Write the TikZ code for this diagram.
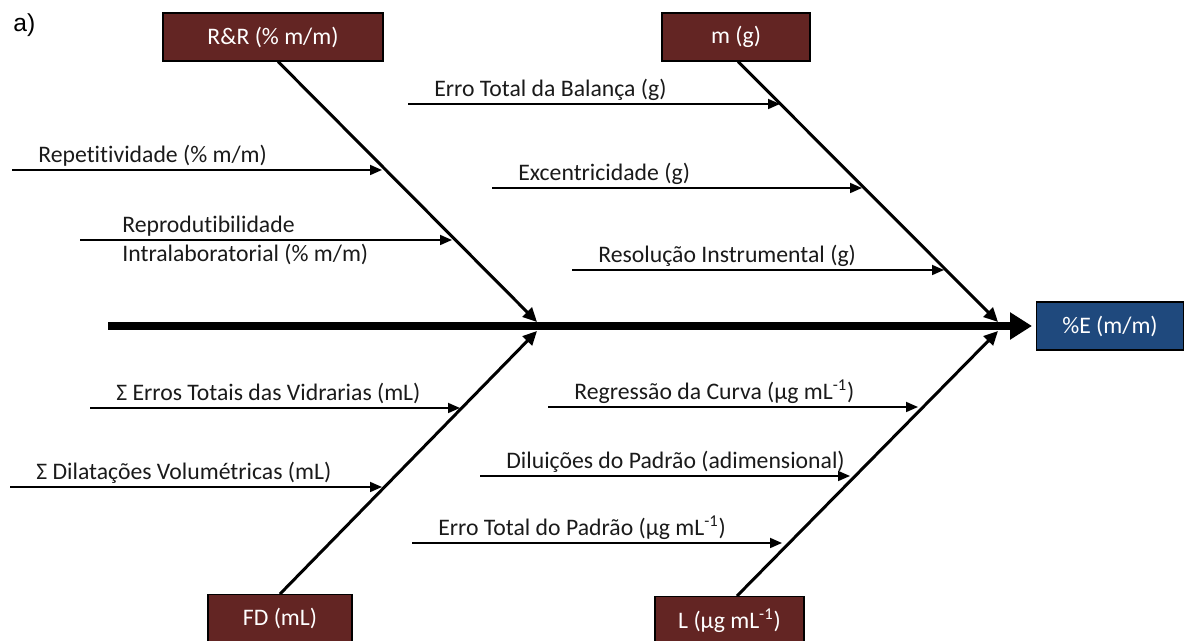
\documentclass[tikz,border=0pt]{standalone}
\usepackage{fontspec}
\setmainfont{Carlito}[Ligatures=NoCommon]
\newfontfamily\tagfont{Liberation Sans}
\usepackage{tikz}
\usetikzlibrary{arrows.meta,positioning,calc}
\definecolor{causefill}{HTML}{632523}
\definecolor{effectfill}{HTML}{1F497D}
\definecolor{lbltxt}{HTML}{1A1A1A}
\tikzset{
  cause/.style   = {draw=black,line width=0.6pt,fill=causefill,text=white,
                    minimum height=9.6mm,inner sep=0pt,
                    font=\fontsize{13.5}{16}\selectfont},
  effect/.style  = {cause,fill=effectfill},
  spine/.style   = {line width=4.5pt,-{Triangle[length=4.4mm,width=5.2mm]}},
  bone/.style    = {line width=1.7pt,-{Triangle[length=2.8mm,width=2.6mm]}},
  sub/.style     = {line width=1pt,-{Triangle[length=2.4mm,width=2mm]}},
  sublbl/.style  = {anchor=base west,inner sep=0pt,text=lbltxt,
                    font=\fontsize{13.5}{16}\selectfont},
}

\begin{document}
\begin{tikzpicture}[x=0.02cm,y=-0.02cm]
  \useasboundingbox (0,0) rectangle (1184,641);
  \clip (0,0) rectangle (1184,641);

  \node[anchor=base west,inner sep=0pt,font=\tagfont\fontsize{14}{16}\selectfont]
      (tag) at (13,32) {a)};

  % Cause boxes and effect
  \node[cause,minimum width=4.4cm]  (rr) at (273,37) {R\&R (\% m/m)};
  \node[cause,minimum width=2.96cm] (mg) at (736,37) {m (g)};
  \node[cause,minimum width=2.88cm,anchor=north] (fd) at (280,594) {FD (mL)};
  \node[cause,minimum width=2.98cm,anchor=north] (lb) at (729.5,596)
      {L (µg mL\textsuperscript{-1})};
  \node[effect,minimum width=2.94cm] (eff) at (1110,326) {\%E (m/m)};

  % Spine
  \coordinate (tail) at (108,326);
  \draw[spine,shorten >=0.8mm] (tail) -- (eff.west);

  % Main bones
  \coordinate (j1) at (537,322);
  \coordinate (j2) at (998,322);
  \coordinate (j3) at (537,331);
  \coordinate (j4) at (998,331);
  \draw[bone] ([xshift=1mm]rr.south) -- (j1);
  \draw[bone] ([xshift=0.4mm]mg.south) -- (j2);
  \draw[bone] (fd.north) -- (j3);
  \draw[bone] ([xshift=1.5mm]lb.north) -- (j4);

  % Sub-causes: name / start x / end x / y / label
  \foreach \n/\xa/\xb/\y/\txt in {
      1/12/382/170/{Repetitividade (\% m/m)},
      3/408/780/104/{Erro Total da Balança (g)},
      4/492/862/188/{Excentricidade (g)},
      5/572/944/270/{Resolução Instrumental (g)},
      6/90/460/408/{Σ Erros Totais das Vidrarias (mL)},
      7/10/382/487/{Σ Dilatações Volumétricas (mL)},
      8/548/918/407/{Regressão da Curva (µg mL\textsuperscript{-1})},
      9/480/850/476/{Diluições do Padrão (adimensional)},
      10/412/782/543/{Erro Total do Padrão (µg mL\textsuperscript{-1})}}
  {
    \coordinate (s\n) at (\xa,\y);
    \coordinate (e\n) at (\xb,\y);
    \draw[sub] (s\n) -- (e\n);
    \node[sublbl] (l\n) at ([xshift=5.2mm,yshift=1.4mm]s\n) {\txt};
  }

  % two-line label round its arrow
  \coordinate (s2) at (80,240);
  \coordinate (e2) at (452,240);
  \draw[sub] (s2) -- (e2);
  \node[sublbl] (l2a) at (122,233) {Reprodutibilidade};
  \node[sublbl] (l2b) at (122,262) {Intralaboratorial (\% m/m)};
\end{tikzpicture}
\end{document}
